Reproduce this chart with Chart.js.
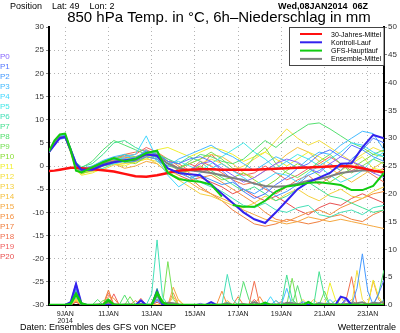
<!DOCTYPE html>
<html>
<head>
<meta charset="utf-8">
<script src="https://cdn.jsdelivr.net/npm/chart.js@4.4.0/dist/chart.umd.min.js"></script>
<style>
html, body { margin: 0; padding: 0; background: #fff; }
canvas { display: block; }
</style>
</head>
<body>
<canvas id="ens" width="400" height="333"></canvas>
<script>
// hours after 08JAN2014 06Z
const hours = [0,6,12,18,24,30,36,48,60,72,84,96,108,120,132,144,156,168,180,192,204,216,228,240,252,264,276,288,300,312,324,336,348,360,372];
const rainHours = [0,6,12,18,24,30,36,42,48,54,60,66,72,78,84,90,96,102,108,114,120,126,132,138,144,150,156,162,168,174,180,186,192,198,204,210,216,222,228,234,240,246,252,258,264,270,276,282,288,294,300,306,312,318,324,330,336,342,348,354,360,366,372];

const tickHours = [18, 66, 114, 162, 210, 258, 306, 354];
const tickLabels = [['9JAN', '2014'], '11JAN', '13JAN', '15JAN', '17JAN', '19JAN', '21JAN', '23JAN'];

// 850 hPa temperature
const climTemp = [-1.1,-1.0,-0.8,-0.6,-0.4,-0.4,-0.5,-0.7,-0.9,-1.2,-1.7,-2.2,-2.3,-2.0,-1.5,-1.0,-0.8,-0.7,-0.7,-0.8,-0.8,-0.8,-0.8,-0.7,-0.6,-0.5,-0.4,-0.3,-0.2,-0.1,0.0,-0.1,-0.5,-1.0,-1.4];
const controlTemp = [3.0,4.5,6.0,6.3,3.5,0.5,-0.8,-0.8,0.2,0.8,1.2,1.5,2.5,2.2,-0.5,-1.5,-1.8,-2.0,-4.0,-6.0,-8.0,-10.0,-11.5,-12.3,-10.0,-7.5,-5.0,-3.5,-2.5,-1.5,0.5,0.6,4.0,6.7,6.0];
const mainTemp = [3.2,5.5,6.8,7.0,3.5,-1.0,-1.4,-0.3,0.8,1.7,1.0,1.5,2.8,3.3,-1.5,-2.8,-3.2,-3.4,-4.0,-6.6,-8.4,-8.8,-8.8,-7.5,-5.5,-4.4,-4.1,-3.6,-3.5,-3.8,-4.1,-5.2,-5.2,-4.3,-1.5];
const meanTemp = [3.0,5.0,6.2,6.3,3.5,0.0,-0.8,-0.3,0.5,1.0,1.2,1.3,2.5,2.3,0.5,-0.5,-0.9,-1.2,-1.5,-2.0,-2.6,-3.0,-3.8,-4.3,-4.5,-4.3,-3.8,-3.2,-2.8,-2.2,-1.5,-1.2,-0.9,-1.0,-1.5];

const memberNames = ['P0','P1','P2','P3','P4','P5','P6','P7','P8','P9','P10','P11','P12','P13','P14','P15','P16','P17','P18','P19','P20'];
const memberTemp = [
  [3.0,5.0,6.0,6.2,3.2,0.0,-1.0, -0.5,0.5,1.0,1.5,1.2,2.8,2.0,0.5,-0.5,-1.0, 0.5,1.0,-0.5,-2.0,-3.5,-2.5,-1.0,0.5,1.5,0.8, -0.5,-1.5,0.5,2.0,1.0,0.0,-1.5,-2.5],
  [3.1,5.2,6.3,6.5,3.5,0.3,-0.6, -0.8,0.0,0.8,1.2,1.8,3.2,2.5,1.0,0.5,1.5, 2.0,1.0,-1.0,-3.0,-5.5,-7.0,-6.0,-4.0,-2.5,-0.5, 0.5,2.5,3.5,2.0,4.5,3.5,6.0,5.0],
  [2.9,4.8,5.8,6.0,3.0,-0.3,-1.2, -0.2,0.8,1.5,0.8,1.0,2.0,1.5,-0.5,-1.5,-2.5, -2.0,-3.0,-4.0,-3.5,-5.0,-6.0,-4.5,-6.5,-5.5,-4.0, -2.0,-1.0,0.5,-1.0,1.5,3.5,2.0,1.0],
  [3.0,5.3,6.4,6.6,3.8,0.5,-0.5, 0.0,1.2,2.0,2.5,1.5,3.5,1.0,0.0,1.5,2.5, 3.5,4.5,3.0,2.0,0.5,-1.0,0.5,2.0,1.0,-0.5, 1.5,3.0,2.5,4.5,6.0,7.5,7.0,3.5],
  [3.1,5.1,6.2,6.3,3.3,0.1,-0.9, -0.5,0.3,1.0,2.0,2.5,6.5,1.5,-2.0,-4.5,-3.0, -1.5,-0.5,0.5,-1.0,-2.5,-4.0,-3.0,-1.5,-2.0,-3.5, -1.5,0.0,1.5,3.0,5.0,4.5,3.0,2.0],
  [3.0,5.0,6.1,6.4,3.6,0.4,-0.7, -1.0,-0.5,0.5,1.0,1.5,2.5,2.0,0.5,1.0,0.0, -1.0,0.5,2.0,3.5,5.0,3.0,1.5,-0.5,1.0,2.5, 1.5,0.0,-2.0,-3.5,-2.5,-1.0,1.5,3.0],
  [2.9,5.2,6.3,6.7,3.4,0.0,-1.1, -0.3,1.0,1.8,1.5,1.8,3.0,2.8,1.0,-1.0,-2.0, -3.5,-4.5,-5.5,-7.0,-8.5,-9.0,-8.0,-9.5,-10.0,-9.0, -8.5,-10.5,-11.0,-10.0,-9.5,-10.5,-9.0,-8.5],
  [3.2,5.4,6.5,6.8,4.0,0.8,-0.2, 0.5,2.5,5.0,5.5,4.0,3.0,2.5,1.5,0.5,2.0, 1.0,-1.0,-2.5,-4.0,-5.5,-4.5,-6.0,-7.5,-6.5,-5.0, -3.5,-5.0,-6.5,-7.0,-8.0,-9.0,-10.0,-9.5],
  [3.0,5.3,6.6,6.9,3.9,0.6,-0.4, 1.0,3.5,5.5,4.5,3.5,2.5,1.8,0.0,-0.5,1.0, 2.5,2.0,1.0,0.5,1.5,3.5,5.5,4.0,6.0,7.5, 9.0,9.3,8.0,6.5,5.0,4.0,2.5,3.5],
  [3.1,5.0,6.0,6.3,3.1,-0.2,-1.3, 0.0,1.0,1.5,2.5,2.0,2.8,2.0,0.5,-0.5,0.5, 1.5,3.0,1.5,-0.5,-1.0,2.0,4.0,0.5,-1.5,-2.5, -1.0,1.0,2.5,0.5,-1.5,0.0,1.5,0.5],
  [3.0,5.1,6.2,6.5,3.3,-0.5,-1.6, -1.0,0.0,0.5,1.0,0.5,2.0,1.5,-0.5,-1.5,-1.0, 0.0,-1.5,-3.0,-2.5,-1.5,-3.0,-4.5,-3.0,-1.0,0.5, -0.5,-2.0,-3.5,-2.0,-0.5,1.0,2.5,2.0],
  [2.9,4.9,5.9,6.1,2.8,-0.8,-2.0, -1.5,-0.5,0.5,0.0,1.0,1.5,3.5,4.0,3.0,2.0, 3.0,4.0,3.5,2.5,1.0,2.0,3.0,1.5,0.0,1.5, 3.0,2.0,0.5,-1.0,0.5,2.0,-0.5,-1.0],
  [3.0,5.0,6.0,6.2,3.0,-0.6,-1.8, -0.8,0.2,0.8,0.5,0.8,1.5,1.0,-1.0,-2.0,-1.0, 0.5,1.5,0.5,-1.0,0.0,1.5,3.0,5.5,8.0,6.0, 4.5,5.5,4.0,2.5,1.0,2.5,4.0,3.0],
  [3.0,5.2,6.3,6.4,3.2,-0.4,-1.5, -1.2,-0.8,0.2,0.5,1.2,1.8,0.5,-1.5,-3.0,-4.5, -6.0,-6.5,-7.5,-8.5,-9.0,-8.0,-6.5,-7.5,-6.0,-5.0, -6.5,-7.5,-6.0,-5.0,-6.5,-7.0,-5.5,-4.5],
  [3.1,5.1,6.1,6.3,3.4,0.0,-1.0, -0.6,0.4,1.2,1.0,1.5,2.2,2.0,0.5,-0.5,0.5, 1.5,2.5,2.0,0.5,-1.5,-2.5,-1.0,0.5,2.5,4.0, 3.0,1.0,-0.5,-2.0,-3.5,-2.0,-0.5,1.0],
  [2.9,4.9,5.9,6.2,3.1,-0.3,-1.4, -1.0,0.0,0.5,-0.5,0.0,1.0,0.5,-1.5,-2.5,-3.5, -5.0,-6.0,-7.0,-8.0,-9.5,-10.5,-11.5,-12.0,-12.5,-12.0, -11.0,-11.5,-12.0,-11.5,-12.0,-12.5,-13.0,-13.5],
  [3.0,5.3,6.4,6.6,3.7,0.3,-0.8, -0.4,0.6,1.3,1.8,2.0,2.5,3.0,1.5,0.0,-1.5, -2.5,-2.0,-3.5,-5.0,-6.5,-8.0,-10.0,-11.5,-12.0,-11.0, -10.0,-9.5,-10.5,-9.0,-8.0,-7.0,-6.0,-5.5],
  [3.1,5.2,6.2,6.5,3.5,0.2,-0.9, -0.2,0.8,1.5,2.0,1.8,2.5,2.0,0.5,-1.0,-2.5, -4.5,-6.0,-7.5,-9.5,-11.0,-12.5,-13.0,-12.5,-11.5,-12.0, -12.5,-12.0,-11.0,-10.5,-11.5,-12.0,-10.5,-9.5],
  [3.0,5.1,6.3,6.6,3.6,0.4,-0.6, -0.5,0.5,1.5,2.5,3.0,3.5,2.5,1.0,0.5,-1.0, 1.0,0.0,-1.5,-3.0,-4.0,-3.5,-5.0,-6.0,-4.5,-3.0, -2.0,-4.0,-2.5,-1.0,1.0,-0.5,-2.0,-3.5],
  [3.0,5.0,6.1,6.4,3.4,0.1,-0.8, -0.3,0.8,1.8,2.2,2.5,4.0,3.0,1.0,-0.5,0.5, -0.5,2.5,0.5,-1.0,-2.0,-1.5,0.0,-1.5,-3.0,-2.0, -0.5,0.5,2.0,0.5,-1.0,0.0,-1.5,-0.5],
  [2.9,5.0,6.0,6.3,3.2,-0.1,-1.1, -0.7,0.2,1.0,1.5,1.0,2.0,1.5,-0.5,-2.0,-3.0, -2.5,-3.5,-4.5,-6.0,-5.0,-6.5,-7.5,-6.5,-8.0,-9.5, -10.5,-9.0,-8.0,-8.5,-7.0,-6.0,-7.0,-8.0]
];

// 6h precipitation (mm), 6-hourly
const controlRain = [0,0,0,0,0.5,3.8,0.3,0,0,0, 0,0,0,0,0,0,0,0.8,0,0, 2.5,0,0,0,0,0,0,0,0,0, 0.5,0,0,0,0,0,0,0,0,0, 0,0,0,0,0,0,0,0,0,0, 0,0,0,0,1.5,1.2,0,0,0,0, 0,0,0];
const mainRain = [0,0,0,0,0.2,2.0,0.3,0,0,0, 0,0.9,0,0,0,0,0,0,0,0, 2.2,0.5,0,0,0,0,0,0,0,0, 0,0,0,0,0,0,0,0,0,0, 0.4,0,0,0,0,0,0,0,0.5,0, 0,0,0,0,0,0,0,0,0,0, 0,0,0];
const meanRain = [0,0,0,0,0.2,2.0,0.1,0,0,0.1, 0.1,0.4,0.2,0,0.1,0.1,0,0.2,0,0.1, 1.9,0.1,0.4,0.3,0.1,0,0,0,0,0, 0.1,0,0.1,0.3,0,0.1,0.2,0,0.5,0.1, 0,0.1,0.1,0,0.4,0.3,0.2,0.1,0.1,0, 0.3,0.2,0.2,0.1,0.1,0.2,0.3,0.3,0.5,0.1, 0.4,0.3,0.6];
const memberRain = [
  [0,0,0,0,0.5,4.0,0.3,0,0,0, 0,0,0,0,0,0,0,0,0,0, 1.0,0,0,0,0,0,0,0,0.3,0, 0,0,0,0,0,0,0,0,0,0, 0.5,0,0,0,0,0,0,0,0,0, 0,0,0,0,0,0.8,0,0,0,0, 0,0,0],
  [0,0,0,0,0.3,3.0,0.2,0,0,0, 0,0,0,0,0,0,0,1.0,0,0, 0.8,0,0,0,0,0,0,0,0,0, 0,0,0,0,0,0,0,0,0,0, 0,0,0,0,0,0,0,0.6,0,0, 0,0,0,0,0,1.2,0,0,0,0, 0,2.0,4.5],
  [0,0,0,0,0.2,2.5,0,0,0,0, 0,0,0,0,0,0,0,0,0,0, 1.0,0,0,0,0,0,0,0,0,0, 0,0,0,0,0,0,0,0,0.5,0, 0,0,0,0,0,0,0,0,0,0, 0,0,0,0,0,1.2,0,3.0,9.2,2.5, 0,0,0],
  [0,0,0,0,0,2.0,0.2,0,0,0, 0,0,0,0,0,0,0,0,0,0, 1.5,0,0,0,0,0,0,0,0,0, 0,0,0,0,0,0,0,0,0,0, 0,0,0.8,0,3.0,0,0,0,0,0, 0,0,1.0,0,0,0,0,0,0,0, 0,0,0],
  [0,0,0,0,0,1.5,0,0,0,0, 0,0,0,0,0,0,0,0,0,0, 1.0,0,0,0,0,0,0,0,0,0, 0,0,0,0,0,0,0,0,0,0, 0,1.5,0,0,0,0,0,0,0,0, 0.5,0,0,0,0,0,0,0,0,0, 0,0,1.0],
  [0,0,0,0,0.4,3.0,0.2,0,0,0, 0,0,0,0,0,0,0,0,0,0, 2.0,0,0,0,0,0,0,0,0,0, 0,0,0,0.5,0,0,0,0,0,0, 0,0,0,0,0,0,0,0,0.5,0, 0,0,0,0,0,0,0,0,0,0, 0,0,0],
  [0,0,0,0,0.3,2.8,0.3,0,0,0, 0,0,0,0,0,0,0,0,0,2.0, 11.7,1.5,0,0,0,0,0,0,0,0, 0,0,0,5.5,1.0,0,0,0,0,0, 0,0,0,0,0,0,0,0,0,0, 0,0,0,0,0,0,0,0,0,0, 0,0,0],
  [0,0,0,0,0,2.2,0.3,0,0,0, 0,0,0,0,0,0,0,0,0,0, 3.0,0,0,0,0,0,0,0,0,0, 0,0,0,0,0,0,0,0,0,0, 0,0,0,0,5.4,1.0,0,0,0,0, 6.0,1.5,0,0,0,0,0,0,0,0, 0,0,0],
  [0,0,0,0,0.3,3.0,0.3,0,0,1.0, 0,0,0,0,1.8,0,0,0,0,0, 2.5,0,0,0,0,0,0,0,0,0, 0,0,0,0,0,0,4.2,1.0,0,0, 0,0,0,0,0,0,3.5,0,0,0, 0,0,0,0,0,0,0,0,0,0, 0,2.0,6.3],
  [0,0,0,0,0,1.5,0,0,0,0, 0.8,1.0,0,0,0,1.5,0,0,0,0, 2.0,0,7.8,1.0,0,0,0,0,0,0, 0,0,0,0,0,0,0,0,0,0, 0,0,0,0,0,4.8,0,0,0,0, 0,2.5,0,0,0,0,0,0,0,0, 0,0,0],
  [0,0,0,0,0,2.0,0.2,0,0,0, 0,0,0,0,0,0,0,0,0,0, 1.5,0,0,0,0,0,0,0,0,0, 0.5,0,0,0,0,0,0,0,0,0, 0,0,0,0,0,1.0,0,0,0,0, 0,0,0,0.8,0,0,0,0,0,0, 0,0,0],
  [0,0,0,0,0,1.0,0,0,0,0, 0,0,0,0,0,0,0,0,0,0, 1.0,0,0,0,0,0,0,0,0,0, 0,0,0,0,0,0,0,0,0,0, 0,0,0,0,0,0,0,0,0,0, 0,0,4.0,1.0,0,0,0,0,0,0, 4.5,1.5,0],
  [0,0,0,0,0,1.5,0,0,0,0, 0,0,0,0,0,0,0,0,0,0, 0.8,0,0,0,0,0,0,0,0,0, 0,0,0,0,0,0,0,0,0,0, 0,0,0,0,0,0,0,1.0,0,0, 0,0,0,0,0,0,0,6.2,1.0,0, 0,0,0],
  [0,0,0,0,0,1.0,0,0,0,0, 0,0,0,0,0,0,0,0,0,0, 0,0,0,0,1.0,0,0,0,0,0, 0,0,0,0,0,0,0,0,0,0, 0,0,0.8,0,0,0,0,0,0,0, 0,0,0,0,1.5,0,0,0,0,0, 0,0,0],
  [0,0,0,0,0,1.2,0,0,0,0, 0,0,0,0,0,0,0,0,0,0, 0,0,0,1.5,0,0,0,0,0,0, 0,0,0,0.8,0,0,0,0,0,0, 0,0,0,0,0,0,0,0,0,1.0, 0,0,0,0,0,0,0,0,0,0, 0,0,0],
  [0,0,0,0,0,0.8,0,0,0,0, 0,0,0,0,0,0,0,0,0,0, 0,0,0,3.2,0.8,0,0,0,0,0, 0,0,0,0,0,0,0,0,0,0, 0,0,0,0,0,0,0,0,0,0, 0,0,0,0,0,0,1.0,0,0,0, 0,0,0],
  [0,0,0,0,0,1.3,0,0,0,0, 0,1.5,1.2,0,0,0,0,0,0,0, 0,0,0,2.2,0,0,0,0,0,0, 0,0,2.5,0,0,0,0,0,0,1.5, 0,0,0,0,0,0,0,0,0,0, 0,0,0,0,0,0,0,0,0,0, 4.3,1.0,0],
  [0,0,0,0,0,0.8,0,0,0,0, 0,2.7,0,0,0,0,0.8,0,0,0, 0,0,0,0,0,0,0,0,0,0, 0,0,0,0,0,1.5,0,0,0,0, 0,0,0,0,0,0,0,0,0.6,0, 0,0,0,0,0,0,0,0,0,0, 0,0,0],
  [0,0,0,0,0,1.0,0,0,0,0, 0,2.2,0,0,0,0,0,1.2,0,0, 0,0,0,0,0,0,0,0,0,0, 0,0,0,0,0,0,0,0,4.3,0, 0,0,0,0,0,0,0,0,0,0, 0,0,0,0,0,1.0,5.1,0,0,0, 0,0,0],
  [0,0,0,0,0,0.6,0,0,0,0, 0,0,2.0,0,0,0,0,0.8,0,0, 0,0,0,0,0,0,0,0,0,0, 0,0,0,0,0,0,0,0,0,0, 0,0,0,0.6,0,0,0,0,0,0, 0,0,0,0,0,0,0,0,0,0, 0,0,0],
  [0,0,0,0,0,0.5,0,0,0,0, 0,0,0,0,0,0,0,0,0,0, 0.5,0,0,0,0,0,0,0,0,0, 0,0,0,0,0,0,0,0,1.0,0, 0,0,0,0,0,0,0,0,0,0, 0,0,0,0,0,0,0,0,0,0, 0,0,0]
];

const memberColors = ['#8866ff','#5577ff','#4499ff','#44bbff','#44d8ff','#44e8e8','#44e0b8','#44e090','#55e070','#77e055','#88dd33','#f0f030','#f5e040','#f5d040','#f5c040','#f5a840','#f59040','#f08040','#f07050','#f06060','#e85050'];
const font = '"Liberation Sans", Arial, sans-serif';

function pts(xs, ys) {
    return xs.map((h, i) => ({ x: h, y: ys[i] }));
}

let datasets = [];
memberTemp.forEach((row, i) => {
    datasets.push({ label: memberNames[i], data: pts(hours, row), borderColor: memberColors[i], borderWidth: 1, yAxisID: 'y', order: 10 });
    datasets.push({ label: memberNames[i] + ' RR', data: pts(rainHours, memberRain[i]), borderColor: memberColors[i], borderWidth: 1, yAxisID: 'y2', order: 10 });
});
datasets.push({ label: 'Ensemble-Mittel', data: pts(hours, meanTemp), borderColor: '#808080', borderWidth: 2, yAxisID: 'y', order: 4 });
datasets.push({ label: 'Ensemble-Mittel RR', data: pts(rainHours, meanRain), borderColor: '#808080', borderWidth: 2, yAxisID: 'y2', order: 4 });
datasets.push({ label: '30-Jahres-Mittel', data: pts(hours, climTemp), borderColor: '#ff1010', borderWidth: 2.5, yAxisID: 'y', order: 3 });
datasets.push({ label: 'Kontroll-Lauf', data: pts(hours, controlTemp), borderColor: '#3322ee', borderWidth: 2, yAxisID: 'y', order: 2 });
datasets.push({ label: 'Kontroll-Lauf RR', data: pts(rainHours, controlRain), borderColor: '#3322ee', borderWidth: 2, yAxisID: 'y2', order: 2 });
datasets.push({ label: 'GFS-Hauptlauf', data: pts(hours, mainTemp), borderColor: '#11cc11', borderWidth: 2, yAxisID: 'y', order: 1,
    // the main run has a break at the resolution switch (192h)
    segment: { borderColor: ctx => ctx.p0.parsed.x === 192 ? 'rgba(0,0,0,0)' : undefined } });
datasets.push({ label: 'GFS-Hauptlauf RR', data: pts(rainHours, mainRain), borderColor: '#11cc11', borderWidth: 2.5, yAxisID: 'y2', order: 1 });

const legendItems = ['30-Jahres-Mittel', 'Kontroll-Lauf', 'GFS-Hauptlauf', 'Ensemble-Mittel'];

const decor = {
    id: 'decor',
    beforeDraw(chart) {
        const c = chart.ctx;
        c.save();
        c.fillStyle = '#fff';
        c.fillRect(0, 0, chart.width, chart.height);
        c.restore();
    },
    afterDraw(chart) {
        const c = chart.ctx;
        c.save();
        c.fillStyle = '#000';
        c.textBaseline = 'alphabetic';
        c.font = '9px ' + font;
        c.textAlign = 'left';
        c.fillText('Position    Lat: 49    Lon: 2', 10, 9);
        c.font = 'bold 9px ' + font;
        c.textAlign = 'right';
        c.fillText('Wed,08JAN2014  06Z', 368, 9);
        c.font = '15px ' + font;
        c.textAlign = 'center';
        c.fillText('850 hPa Temp. in °C, 6h\u2013Niederschlag in mm', 219, 22);
        c.font = '9px ' + font;
        c.textAlign = 'left';
        c.fillText('Daten: Ensembles des GFS von NCEP', 20, 330);
        c.textAlign = 'right';
        c.fillText('Wetterzentrale', 396, 330);

        // member labels in the left margin
        c.textAlign = 'left';
        c.font = '8px ' + font;
        memberNames.forEach((n, i) => {
            c.fillStyle = memberColors[i];
            c.fillText(n, 0, 59 + i * 10);
        });

        // legend box
        const area = chart.chartArea;
        const bx = 289.5, by = area.top + 0.5, bw = area.right - 289.5, bh = 38;
        c.fillStyle = '#fff';
        c.fillRect(bx, by, bw, bh);
        c.strokeStyle = '#444';
        c.lineWidth = 1;
        c.strokeRect(bx, by, bw, bh);
        c.font = '7px ' + font;
        legendItems.forEach((name, i) => {
            const ds = chart.data.datasets.find(d => d.label === name);
            const y = by + 6.5 + i * 8.3;
            c.strokeStyle = ds.borderColor;
            c.lineWidth = 2;
            c.beginPath();
            c.moveTo(300, y);
            c.lineTo(322, y);
            c.stroke();
            c.fillStyle = '#000';
            c.fillText(name, 331, y + 2.5);
        });
        c.restore();
    }
};

const tickFont = { family: font, size: 8 };

new Chart(document.getElementById('ens').getContext('2d'), {
    type: 'line',
    data: { datasets: datasets },
    options: {
        responsive: false,
        animation: false,
        layout: { padding: { top: 27, left: 0, right: 0, bottom: 0 } },
        plugins: { legend: { display: false }, tooltip: { enabled: false } },
        elements: { point: { radius: 0 }, line: { tension: 0 } },
        scales: {
            x: {
                type: 'linear', min: 0, max: 372,
                afterBuildTicks: s => { s.ticks = tickHours.map(v => ({ value: v })); },
                afterFit: s => { s.height = 28; },
                ticks: {
                    callback: v => tickLabels[tickHours.indexOf(v)],
                    font: { family: font, size: 7, lineHeight: 1.1 }, color: '#222',
                    maxRotation: 0, autoSkip: false, padding: 2
                },
                grid: { color: '#b4b4b4', tickLength: 3, tickColor: '#666' },
                border: { color: '#000', width: 2, dash: [1, 3] }
            },
            y: {
                position: 'left', min: -30, max: 30,
                afterFit: s => { s.width = 49; },
                ticks: { stepSize: 5, font: tickFont, color: '#333', padding: 2 },
                grid: { color: c => c.tick && c.tick.value === 30 ? 'rgba(0,0,0,0)' : '#b4b4b4', tickLength: 3, tickColor: '#888' },
                border: { color: '#000', width: 2, dash: [1, 3] }
            },
            y2: {
                position: 'right', min: 0, max: 50,
                afterFit: s => { s.width = 16; },
                ticks: { stepSize: 5, font: tickFont, color: '#333', padding: 1 },
                grid: { drawOnChartArea: false, tickLength: 3, tickColor: '#888' },
                border: { color: '#000', width: 2 }
            }
        }
    },
    plugins: [decor]
});
</script>
</body>
</html>
